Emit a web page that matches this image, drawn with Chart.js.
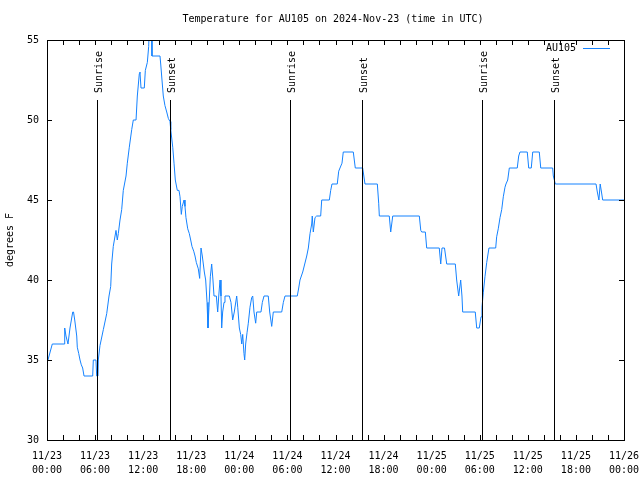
<!DOCTYPE html>
<html>
<head>
<meta charset="utf-8">
<script src="https://cdn.jsdelivr.net/npm/chart.js@4.4.1/dist/chart.umd.min.js"></script>
<style>
html,body{margin:0;padding:0;background:#fff;}
#c{display:block;}
</style>
</head>
<body>
<canvas id="c" width="640" height="480"></canvas>
<script>
// ---- data (hours since 2024-11-23 00:00 UTC, degrees F) ----
const hours = [
0.12,0.66,2.21,2.21,2.37,2.62,2.87,3.21,3.31,3.46,3.71,3.78,3.96,4.12,4.28,4.45,4.62,5.70,5.78,6.11,6.20,6.36,
6.40,6.61,7.03,7.45,7.74,7.95,8.07,8.27,8.61,8.77,8.90,9.11,9.32,9.52,9.86,10.02,10.27,10.57,10.77,11.11,11.27,
11.52,11.60,11.73,12.14,12.27,12.52,12.69,12.77,13.06,13.10,14.10,14.19,14.35,14.51,14.72,14.94,15.14,15.35,15.44,
15.69,15.85,16.01,16.26,16.47,16.60,16.76,16.88,17.10,17.22,17.34,17.56,17.76,17.93,18.09,18.31,18.47,18.63,18.88,
19.05,19.22,19.38,19.63,19.80,19.97,20.09,20.21,20.38,20.55,20.71,20.84,21.13,21.30,21.43,21.59,21.71,21.80,21.92,
22.09,22.21,22.75,22.96,23.17,23.37,23.67,23.80,24.00,24.17,24.30,24.42,24.58,24.67,24.79,24.96,25.12,25.33,25.54,
25.67,25.83,26.04,26.17,26.70,26.87,27.08,27.61,27.79,28.04,28.24,29.29,29.49,29.70,31.23,31.41,31.57,31.91,32.16,
32.41,32.61,32.82,33.03,33.10,33.23,33.44,33.65,34.15,34.28,35.23,35.40,35.56,36.22,36.40,36.56,36.81,36.97,38.22,
38.47,39.39,39.68,41.22,41.39,41.47,42.71,42.89,43.14,46.46,46.64,46.76,47.21,47.38,48.95,49.13,49.29,49.60,49.88,
50.95,51.12,51.37,51.62,51.78,51.87,53.44,53.62,53.94,54.16,54.28,54.44,54.65,54.87,55.15,55.99,56.11,56.31,56.53,
56.74,56.94,57.15,57.27,57.49,57.69,58.68,58.86,59.02,59.93,60.11,60.43,60.61,61.43,61.61,63.10,63.18,63.43,68.51,
68.67,68.87,69.03,69.19,69.34,72.0
];
const temps = [
35,36,36,37,36.5,36,37,38,38,37.5,36.5,35.8,35.4,35,34.7,34.5,34,34,35,35,34,34,
35,35.9,36.9,37.9,39,39.6,41,42.1,43.1,42.5,42.9,43.75,44.4,45.6,46.5,47.3,48.3,49.4,50,50,51.5,
52.9,53,52,52,53.1,53.6,54.6,56,56,54,54,53.5,52.5,51.5,50.9,50.5,50.1,49.9,49.4,
48.3,47.3,46.25,45.6,45.6,45.2,44.1,44.6,45,44.6,43.9,43.2,42.9,42.5,42.1,41.8,41.5,41.1,40.7,
40.1,42,41.5,40.5,40,38.6,37,38.3,40.2,41,40,39,39,38,39,40,39,37,38,
38.6,39,39,38.6,37.5,38,39,38.3,37,36.6,36,36.6,35.4,35,36,36.7,37.3,38.3,38.9,
39,38,37.3,38,38,38.6,39,39,38,37.1,38,38,38.6,39,39,39.5,40,40.5,41,
41.5,42,42.9,43.5,44,43,43.9,44,44,45,45,45.6,46,46,46.8,47,47.3,48,48,
47,47,46,46,44.8,44,44,43,44,44,43.1,43,43,42,42,41,42,42,41,
41,40,39,40,39,38,38,37,37,37.7,38.3,39.2,40.2,41.1,42,42,42.7,43.2,43.9,
44.4,45.2,45.8,46,46.25,47,47,47.75,48,48,47,47,48,48,47,47,46.5,46,46,
45.5,45,46,45.5,45,45
];
const seriesName = 'AU105';
const xTickLabels = [
['11/23','00:00'],['11/23','06:00'],['11/23','12:00'],['11/23','18:00'],
['11/24','00:00'],['11/24','06:00'],['11/24','12:00'],['11/24','18:00'],
['11/25','00:00'],['11/25','06:00'],['11/25','12:00'],['11/25','18:00'],
['11/26','00:00']
];
const sunTimes = [6.3, 15.3, 30.3, 39.3, 54.3, 63.3];
const sunLabels = ['Sunrise','Sunset','Sunrise','Sunset','Sunrise','Sunset'];
const titleText = 'Temperature for AU105 on 2024-Nov-23 (time in UTC)';
const yAxisTitle = 'degrees F';

const FONT = '"DejaVu Sans Mono", "Liberation Mono", monospace';
const LINE_COLOR = '#1482ff';

const points = hours.map((h, i) => ({x: h, y: temps[i]}));

const decor = {
  id: 'decor',
  afterDraw(chart) {
    const ctx = chart.ctx;
    const a = chart.chartArea;
    const xs = chart.scales.x, ys = chart.scales.y;
    ctx.save();
    ctx.strokeStyle = '#000';
    ctx.lineWidth = 1;
    // sun lines
    ctx.beginPath();
    const lineTop = a.bottom - 0.85 * (a.bottom - a.top);
    sunTimes.forEach(t => {
      const px = Math.round(xs.getPixelForValue(t)) + 0.5;
      ctx.moveTo(px, a.bottom);
      ctx.lineTo(px, Math.round(lineTop));
    });
    ctx.stroke();
    // sun labels
    ctx.fillStyle = '#000';
    ctx.font = '10px ' + FONT;
    sunTimes.forEach((t, i) => {
      const px = Math.round(xs.getPixelForValue(t));
      ctx.save();
      ctx.translate(px + 2, Math.round(lineTop) - 7);
      ctx.rotate(-Math.PI / 2);
      ctx.textAlign = 'left';
      ctx.textBaseline = 'middle';
      ctx.fillText(sunLabels[i], 0, 0);
      ctx.restore();
    });
    // border
    ctx.strokeRect(Math.round(a.left) + 0.5, Math.round(a.top) + 0.5,
                   Math.round(a.right - a.left), Math.round(a.bottom - a.top));
    // inward ticks
    ctx.beginPath();
    const tl = 5;
    for (let h = 0; h <= 72; h += 2) {
      const px = Math.round(xs.getPixelForValue(h)) + 0.5;
      ctx.moveTo(px, a.bottom); ctx.lineTo(px, a.bottom - tl);
      ctx.moveTo(px, a.top); ctx.lineTo(px, a.top + tl);
    }
    for (let v = 30; v <= 55; v += 5) {
      const py = Math.round(ys.getPixelForValue(v)) + 0.5;
      ctx.moveTo(a.left, py); ctx.lineTo(a.left + tl, py);
      ctx.moveTo(a.right, py); ctx.lineTo(a.right - tl, py);
    }
    ctx.stroke();
    // title
    ctx.font = '10px ' + FONT;
    ctx.textAlign = 'center';
    ctx.textBaseline = 'middle';
    ctx.fillText(titleText, 333, 19);
    // y axis title
    ctx.save();
    ctx.translate(10, 240);
    ctx.rotate(-Math.PI / 2);
    ctx.fillText(yAxisTitle, 0, 0);
    ctx.restore();
    // legend
    ctx.textAlign = 'right';
    ctx.fillText(seriesName, 576, 48);
    ctx.strokeStyle = LINE_COLOR;
    ctx.beginPath();
    ctx.moveTo(583, 48.5); ctx.lineTo(610, 48.5);
    ctx.stroke();
    ctx.restore();
  }
};

new Chart(document.getElementById('c'), {
  type: 'line',
  data: {
    datasets: [{
      label: seriesName,
      data: points,
      borderColor: LINE_COLOR,
      borderWidth: 1,
      pointRadius: 0,
      tension: 0,
      fill: false
    }]
  },
  options: {
    responsive: false,
    animation: false,
    devicePixelRatio: 1,
    layout: {padding: {top: 40, right: 16, left: 0, bottom: 0}},
    plugins: {legend: {display: false}, title: {display: false}, tooltip: {enabled: false}},
    scales: {
      x: {
        type: 'linear', min: 0, max: 72,
        border: {display: false},
        grid: {display: false, drawTicks: false},
        ticks: {
          stepSize: 6, autoSkip: false, maxRotation: 0, padding: 9,
          color: '#000', font: {family: FONT, size: 10, lineHeight: 1.4},
          callback: (v) => xTickLabels[Math.round(v / 6)]
        },
        afterFit: (s) => { s.height = 40; s.paddingLeft = 0; s.paddingRight = 0; }
      },
      y: {
        min: 30, max: 55,
        border: {display: false},
        grid: {display: false, drawTicks: false},
        ticks: {stepSize: 5, padding: 8, color: '#000', font: {family: FONT, size: 10}},
        afterFit: (s) => { s.width = 47; s.paddingTop = 0; s.paddingBottom = 0; }
      }
    }
  },
  plugins: [decor]
});
</script>
</body>
</html>
